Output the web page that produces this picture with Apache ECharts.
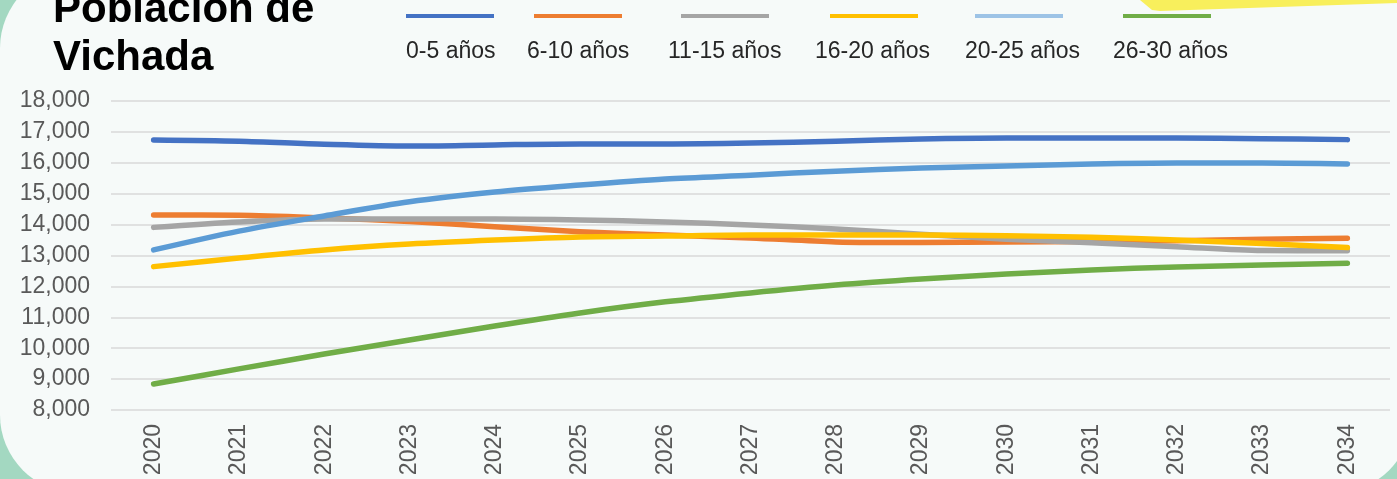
<!DOCTYPE html>
<html>
<head>
<meta charset="utf-8">
<script src="https://cdn.jsdelivr.net/npm/echarts@6/dist/echarts.min.js"></script>
<style>
  html, body { margin: 0; padding: 0; background: #a3d8c1; }
  #main { width: 1397px; height: 479px; }
</style>
</head>
<body>
<div id="main"></div>
<script>
// datos
const years = ['2020', '2021', '2022', '2023', '2024', '2025', '2026', '2027', '2028', '2029', '2030', '2031', '2032', '2033', '2034'];
const seriesNames = ['0-5 años', '6-10 años', '11-15 años', '16-20 años', '20-25 años', '26-30 años'];

const edad0a5   = [16740, 16700, 16600, 16540, 16580, 16610, 16610, 16640, 16700, 16770, 16800, 16800, 16800, 16780, 16750];
const edad6a10  = [14310, 14300, 14215, 14100, 13930, 13770, 13660, 13570, 13440, 13420, 13440, 13450, 13480, 13525, 13560];
const edad11a15 = [13910, 14085, 14180, 14180, 14180, 14150, 14085, 13990, 13860, 13690, 13525, 13415, 13285, 13160, 13150];
const edad16a20 = [12640, 12920, 13180, 13370, 13500, 13600, 13630, 13660, 13660, 13660, 13640, 13590, 13500, 13390, 13255];
const edad20a25 = [13180, 13790, 14280, 14740, 15055, 15280, 15475, 15600, 15730, 15830, 15900, 15960, 15990, 15990, 15960];
const edad26a30 = [8840, 9330, 9810, 10265, 10720, 11140, 11500, 11790, 12045, 12240, 12400, 12530, 12630, 12690, 12750];

const allValues = [edad0a5, edad6a10, edad11a15, edad16a20, edad20a25, edad26a30];

const lineColors = ['#4472C4', '#ED7D31', '#A5A5A5', '#FFC000', '#5B9BD5', '#70AD47'];
const legendColors = ['#4472C4', '#ED7D31', '#A5A5A5', '#FFC000', '#9DC3E6', '#70AD47'];
const legendX = [406, 534, 681, 830, 975, 1123];
const labelX = [406, 527, 668, 815, 965, 1113];

const font = 'Liberation Sans, Arial, sans-serif';

let chart = echarts.init(document.getElementById('main'), null, { renderer: 'canvas' });

// leyenda a mano: linea arriba, texto abajo
let legendGraphics = [];
seriesNames.forEach(function (name, i) {
  legendGraphics.push({
    type: 'line',
    shape: { x1: legendX[i], y1: 16, x2: legendX[i] + 88, y2: 16 },
    style: { stroke: legendColors[i], lineWidth: 4 },
    z: 10
  });
  legendGraphics.push({
    type: 'text',
    x: labelX[i],
    y: 52,
    style: {
      text: name,
      fill: '#262626',
      font: '23px ' + font,
      verticalAlign: 'middle'
    },
    z: 10
  });
});

let option = {
  animation: false,
  backgroundColor: '#a3d8c1',
  textStyle: { fontFamily: font },
  title: {
    text: 'Población de\nVichada',
    left: 53,
    top: -14,
    padding: 0,
    textStyle: {
      fontFamily: font,
      fontSize: 42,
      fontWeight: 'bold',
      lineHeight: 48,
      color: '#000000'
    },
    z: 10
  },
  graphic: [
    {
      type: 'rect',
      shape: { x: 0, y: -30, width: 1412, height: 523, r: 78 },
      style: { fill: '#f6faf9' },
      z: -10,
      silent: true
    },
    {
      type: 'polygon',
      shape: { points: [[1140, 0], [1397, 0], [1397, 3], [1160, 11], [1152, 10], [1146, 5]] },
      style: { fill: '#f8ef5c' },
      z: -5,
      silent: true
    }
  ].concat(legendGraphics),
  grid: {
    left: 111,
    right: 7,
    top: 101,
    bottom: 69
  },
  xAxis: {
    type: 'category',
    boundaryGap: true,
    data: years,
    axisLine: { show: false },
    axisTick: { show: false },
    axisLabel: {
      rotate: 90,
      margin: 14,
      fontSize: 23,
      color: '#595959',
      fontFamily: font
    }
  },
  yAxis: {
    type: 'value',
    min: 8000,
    max: 18000,
    interval: 1000,
    axisLine: { show: false },
    axisTick: { show: false },
    axisLabel: {
      margin: 21,
      fontSize: 23,
      color: '#595959',
      fontFamily: font,
      formatter: function (v) { return v.toLocaleString('en-US'); }
    },
    splitLine: { lineStyle: { color: '#d9d9d9', width: 1.5 } }
  },
  series: seriesNames.map(function (name, i) {
    return {
      name: name,
      type: 'line',
      data: allValues[i],
      smooth: 0.3,
      showSymbol: false,
      symbol: 'none',
      lineStyle: { color: lineColors[i], width: 5.5, cap: 'round', join: 'round' },
      itemStyle: { color: lineColors[i] }
    };
  })
};

chart.setOption(option);
</script>
</body>
</html>
